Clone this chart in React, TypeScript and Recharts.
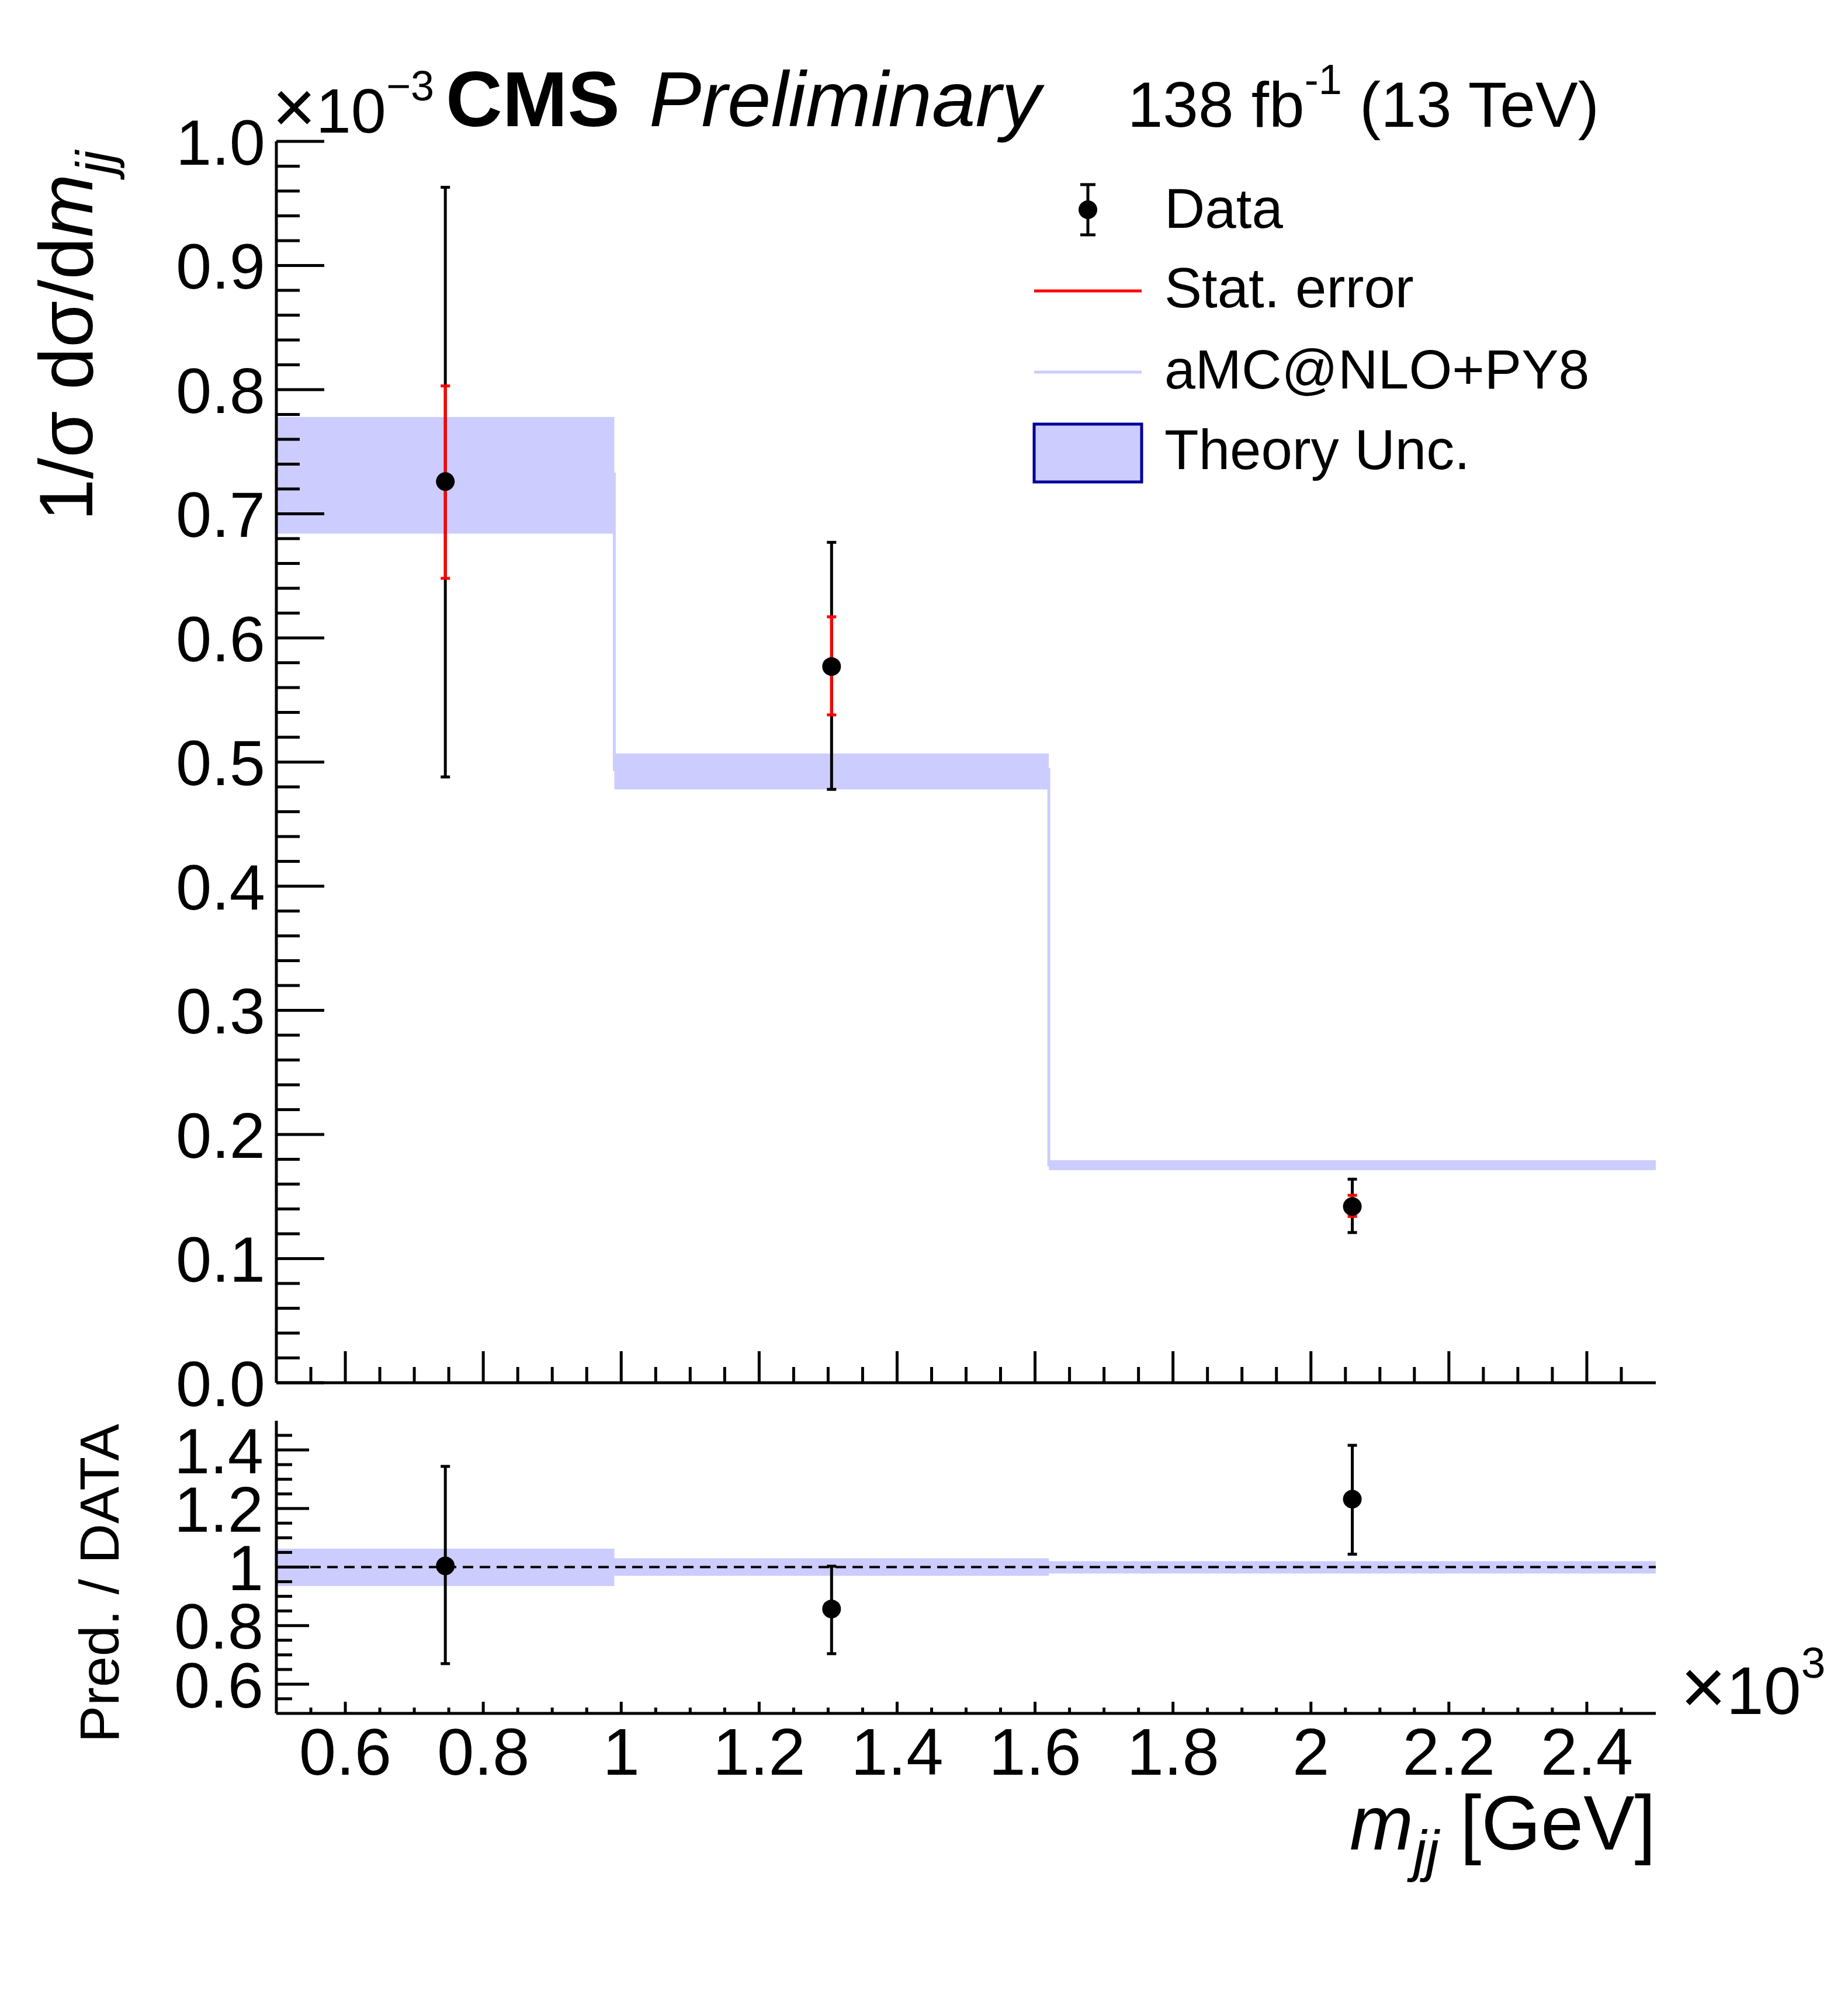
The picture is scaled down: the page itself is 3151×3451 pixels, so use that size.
import React from "react";
import {
  ComposedChart,
  Area,
  Line,
  Scatter,
  ErrorBar,
  XAxis,
  YAxis,
  ReferenceLine,
} from "recharts";

// m_jj bins [GeV]
const binEdges = [500, 990, 1620, 2500];
const binCenters = [745, 1305, 2060];

// unfolded data, 1/sigma dsigma/dm_jj in units of 1e-3
const dataValues = [0.726, 0.577, 0.142];
const totalLow = [0.488, 0.478, 0.121];
const totalHigh = [0.963, 0.677, 0.164];
const statLow = [0.648, 0.538, 0.134];
const statHigh = [0.803, 0.617, 0.151];

// aMC@NLO+PY8 prediction and theory band
const theoryValues = [0.732, 0.494, 0.1755];
const theoryLow = [0.684, 0.478, 0.1713];
const theoryHigh = [0.778, 0.507, 0.1793];

// Pred. / DATA
const ratioValues = [1.004, 0.857, 1.232];
const ratioLow = [0.67, 0.704, 1.044];
const ratioHigh = [1.344, 1.003, 1.416];
const ratioBandLow = [0.935, 0.97, 0.978];
const ratioBandHigh = [1.063, 1.03, 1.02];

// tick labels
const xMajorTicks = [600, 800, 1000, 1200, 1400, 1600, 1800, 2000, 2200, 2400];
const yMainMajorTicks = [0, 0.1, 0.2, 0.3, 0.4, 0.5, 0.6, 0.7, 0.8, 0.9, 1.0];
const yRatioMajorTicks = [0.6, 0.8, 1, 1.2, 1.4];

const steps = (from: number, to: number, step: number) => {
  const out: number[] = [];
  for (let v = from; v <= to + step / 2; v += step) out.push(Math.round(v * 1000) / 1000);
  return out;
};
const xTicks = steps(550, 2450, 50);
const yMainTicks = steps(0, 1, 0.02);
const yRatioTicks = steps(0.55, 1.45, 0.05);

const isMajor = (v: number, majors: number[]) => majors.some((m) => Math.abs(m - v) < 1e-6);

const points = binCenters.map((x, i) => ({
  x,
  y: dataValues[i],
  tot: [dataValues[i] - totalLow[i], totalHigh[i] - dataValues[i]],
  stat: [dataValues[i] - statLow[i], statHigh[i] - dataValues[i]],
}));

const theoryStep = binEdges.map((x, i) => {
  const j = Math.min(i, binCenters.length - 1);
  return { x, mid: theoryValues[j], band: [theoryLow[j], theoryHigh[j]] };
});

const ratioPoints = binCenters.map((x, i) => ({
  x,
  y: ratioValues[i],
  err: [ratioValues[i] - ratioLow[i], ratioHigh[i] - ratioValues[i]],
}));

const ratioStep = binEdges.map((x, i) => {
  const j = Math.min(i, binCenters.length - 1);
  return { x, band: [ratioBandLow[j], ratioBandHigh[j]] };
});

const FONT = "'Liberation Sans', Arial, Helvetica, sans-serif";
const BAND = "#ccccff";
const frame = { stroke: "#000", strokeWidth: 5 };

const MainXTick = ({ x, y, payload }: any) => (
  <line
    x1={x}
    x2={x}
    y1={y}
    y2={y - (isMajor(payload.value, xMajorTicks) ? 54 : 27)}
    stroke="#000"
    strokeWidth={5}
  />
);

const RatioXTick = ({ x, y, payload }: any) => {
  const major = isMajor(payload.value, xMajorTicks);
  return (
    <g>
      <line x1={x} x2={x} y1={y} y2={y - (major ? 20 : 10)} stroke="#000" strokeWidth={5} />
      {major && (
        <text x={x} y={y + 105} textAnchor="middle" fontSize={114} fontFamily={FONT} fill="#000">
          {String(payload.value / 1000)}
        </text>
      )}
    </g>
  );
};

const MainYTick = ({ x, y, payload }: any) => {
  const major = isMajor(payload.value, yMainMajorTicks);
  return (
    <g>
      <line x1={x} x2={x + (major ? 82 : 40)} y1={y} y2={y} stroke="#000" strokeWidth={5} />
      {major && (
        <text x={x - 19} y={y} dy="0.36em" textAnchor="end" fontSize={110} fontFamily={FONT} fill="#000">
          {payload.value.toFixed(1)}
        </text>
      )}
    </g>
  );
};

const RatioYTick = ({ x, y, payload }: any) => {
  const major = isMajor(payload.value, yRatioMajorTicks);
  return (
    <g>
      <line x1={x} x2={x + (major ? 56 : 27)} y1={y} y2={y} stroke="#000" strokeWidth={5} />
      {major && (
        <text x={x - 22} y={y} dy="0.36em" textAnchor="end" fontSize={110} fontFamily={FONT} fill="#000">
          {String(payload.value)}
        </text>
      )}
    </g>
  );
};

const Marker = (props: any) => <circle cx={props.cx} cy={props.cy} r={16} fill="#000" />;

const Overlay = () => (
  <svg
    width={3151}
    height={3451}
    style={{ position: "absolute", left: 0, top: 0, pointerEvents: "none" }}
    fontFamily={FONT}
  >
    {/* header */}
    <text x={466} y={227} fontSize={108}>
      <tspan fontSize={128}>×</tspan>10<tspan fontSize={72} dy={-55}>−3</tspan>
    </text>
    <text x={763} y={216} fontSize={134} fontWeight="bold">
      CMS
    </text>
    <text x={1111} y={216} fontSize={134} fontStyle="italic">
      Preliminary
    </text>
    <text x={2737} y={217} fontSize={109} textAnchor="end" style={{ whiteSpace: "pre" }}>
      138 fb<tspan fontSize={72} dy={-56}>-1</tspan>
      <tspan dy={56}> (13 TeV)</tspan>
    </text>

    {/* legend */}
    <line x1={1862} x2={1862} y1={316} y2={402} stroke="#000" strokeWidth={5} />
    <line x1={1849} x2={1875} y1={316} y2={316} stroke="#000" strokeWidth={5} />
    <line x1={1849} x2={1875} y1={402} y2={402} stroke="#000" strokeWidth={5} />
    <circle cx={1862} cy={359} r={16} fill="#000" />
    <text x={1993} y={390} fontSize={96}>Data</text>
    <line x1={1770} x2={1954} y1={498} y2={498} stroke="#ff0000" strokeWidth={5} />
    <text x={1993} y={526} fontSize={96}>Stat. error</text>
    <line x1={1770} x2={1954} y1={637} y2={637} stroke={BAND} strokeWidth={5} />
    <text x={1993} y={665} fontSize={95}>aMC@NLO+PY8</text>
    <rect x={1770} y={726} width={184} height={99} fill={BAND} stroke="#000099" strokeWidth={5} />
    <text x={1993} y={803} fontSize={96}>Theory Unc.</text>

    {/* axis titles */}
    <text x={158} y={892} transform="rotate(-90 158 892)" fontSize={130}>
      1/σ dσ/d<tspan fontStyle="italic">m</tspan>
      <tspan fontStyle="italic" fontSize={90} dy={36}>jj</tspan>
    </text>
    <text x={203} y={2983} transform="rotate(-90 203 2983)" fontSize={95}>
      Pred. / DATA
    </text>
    <text x={2876} y={2934} fontSize={115}>
      <tspan fontSize={135}>×</tspan>10<tspan fontSize={75} dy={-62}>3</tspan>
    </text>
    <text x={2834} y={3166} fontSize={131} textAnchor="end" style={{ whiteSpace: "pre" }}>
      <tspan fontStyle="italic">m</tspan>
      <tspan fontStyle="italic" fontSize={98} dy={36}>jj</tspan>
      <tspan dy={-36}> [GeV]</tspan>
    </text>
  </svg>
);

const App = () => {
  return (
    <div style={{ position: "absolute", left: 0, top: 0, width: 3151, height: 3451, background: "#fff" }}>
      <div style={{ position: "absolute", left: 0, top: 0 }}>
        <ComposedChart width={3151} height={2470} margin={{ top: 242, right: 317, bottom: 0, left: 0 }}>
          <XAxis
            xAxisId="b"
            dataKey="x"
            type="number"
            domain={[500, 2500]}
            allowDataOverflow
            ticks={xTicks}
            interval={0}
            tick={MainXTick}
            tickLine={false}
            tickSize={0}
            tickMargin={0}
            height={103}
            axisLine={frame}
          />
          <XAxis
            xAxisId="t"
            orientation="top"
            dataKey="x"
            type="number"
            domain={[500, 2500]}
            height={0}
            tick={false}
            tickLine={false}
            axisLine={frame}
          />
          <YAxis
            yAxisId="l"
            type="number"
            domain={[0, 1]}
            allowDataOverflow
            ticks={yMainTicks}
            interval={0}
            tick={MainYTick}
            tickLine={false}
            tickSize={0}
            tickMargin={0}
            width={473}
            axisLine={frame}
          />
          <YAxis
            yAxisId="r"
            orientation="right"
            type="number"
            domain={[0, 1]}
            width={0}
            tick={false}
            tickLine={false}
            axisLine={frame}
          />
          <Area
            xAxisId="b"
            yAxisId="l"
            data={theoryStep}
            dataKey="band"
            type="stepAfter"
            fill={BAND}
            fillOpacity={1}
            stroke="none"
            isAnimationActive={false}
          />
          <Line
            xAxisId="b"
            yAxisId="l"
            data={theoryStep}
            dataKey="mid"
            type="stepAfter"
            stroke={BAND}
            strokeWidth={5}
            dot={false}
            isAnimationActive={false}
          />
          <Scatter
            xAxisId="b"
            yAxisId="l"
            data={points}
            dataKey="y"
            shape={Marker}
            isAnimationActive={false}
          >
            <ErrorBar dataKey="tot" direction="y" width={8} stroke="#000" strokeWidth={5} isAnimationActive={false} />
            <ErrorBar dataKey="stat" direction="y" width={8} stroke="#ff0000" strokeWidth={5} isAnimationActive={false} />
          </Scatter>
        </ComposedChart>
      </div>
      <div style={{ position: "absolute", left: 0, top: 2400 }}>
        <ComposedChart width={3151} height={1051} margin={{ top: 32, right: 317, bottom: 0, left: 0 }}>
          <XAxis
            xAxisId="b"
            dataKey="x"
            type="number"
            domain={[500, 2500]}
            allowDataOverflow
            ticks={xTicks}
            interval={0}
            tick={RatioXTick}
            tickLine={false}
            tickSize={0}
            tickMargin={0}
            height={518}
            axisLine={frame}
          />
          <XAxis
            xAxisId="t"
            orientation="top"
            dataKey="x"
            type="number"
            domain={[500, 2500]}
            height={0}
            tick={false}
            tickLine={false}
            axisLine={frame}
          />
          <YAxis
            yAxisId="l"
            type="number"
            domain={[0.5, 1.5]}
            allowDataOverflow
            ticks={yRatioTicks}
            interval={0}
            tick={RatioYTick}
            tickLine={false}
            tickSize={0}
            tickMargin={0}
            width={473}
            axisLine={frame}
          />
          <YAxis
            yAxisId="r"
            orientation="right"
            type="number"
            domain={[0.5, 1.5]}
            width={0}
            tick={false}
            tickLine={false}
            axisLine={frame}
          />
          <Area
            xAxisId="b"
            yAxisId="l"
            data={ratioStep}
            dataKey="band"
            type="stepAfter"
            fill={BAND}
            fillOpacity={1}
            stroke="none"
            isAnimationActive={false}
          />
          <ReferenceLine xAxisId="b" yAxisId="l" y={1} stroke="#000" strokeWidth={4} strokeDasharray="18 11" />
          <Scatter
            xAxisId="b"
            yAxisId="l"
            data={ratioPoints}
            dataKey="y"
            shape={Marker}
            isAnimationActive={false}
          >
            <ErrorBar dataKey="err" direction="y" width={8} stroke="#000" strokeWidth={5} isAnimationActive={false} />
          </Scatter>
        </ComposedChart>
      </div>
      <Overlay />
    </div>
  );
};

export default App;
